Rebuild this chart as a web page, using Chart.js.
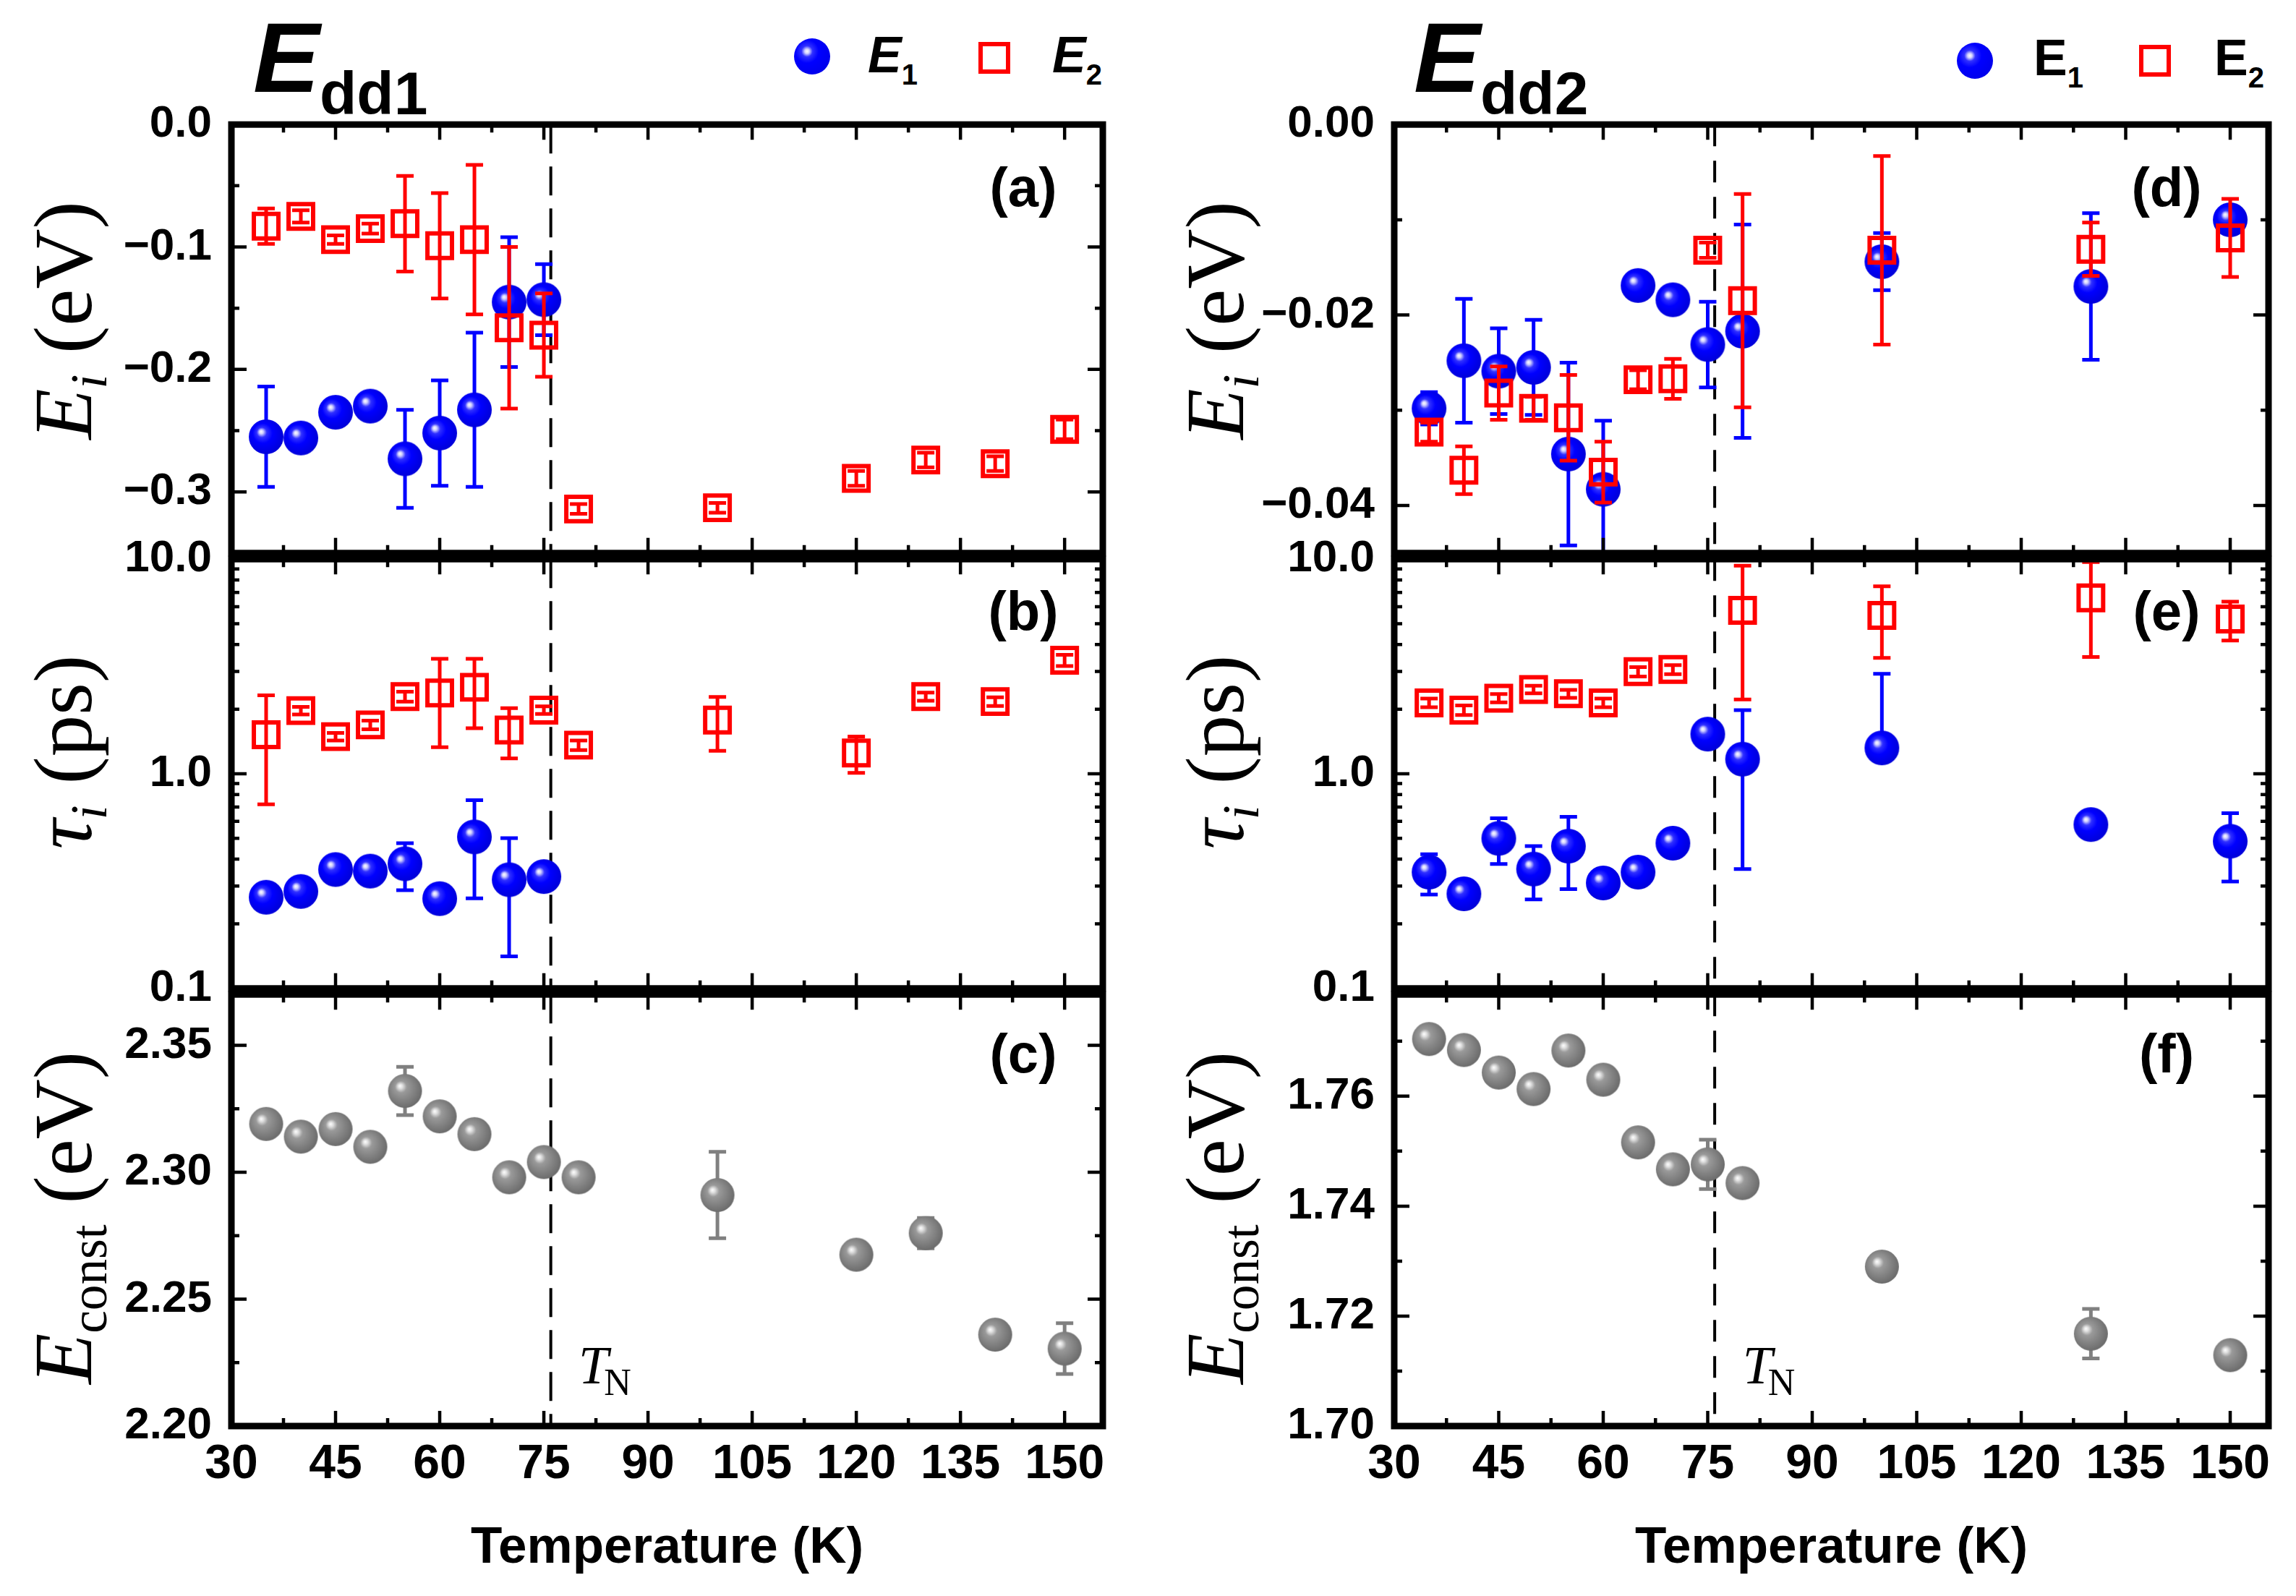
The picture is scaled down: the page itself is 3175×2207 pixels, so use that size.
<!DOCTYPE html>
<html>
<head>
<meta charset="utf-8">
<script src="https://cdn.jsdelivr.net/npm/chart.js@4.4.1/dist/chart.umd.min.js"></script>
<style>
    html, body { margin: 0; padding: 0; background: #fff; }
    body { width: 3175px; height: 2207px; position: relative; overflow: hidden; }
    canvas.panel { position: absolute; }
    .ytitle {
        position: absolute; transform: translate(-50%, -50%) rotate(-90deg);
        white-space: nowrap; font-family: 'Liberation Serif', serif; font-size: 115px;
        line-height: 1; color: #000;
    }
    .ytitle sub { font-size: 0.62em; vertical-align: -0.3em; line-height: 0; }
    .big {
        position: absolute; white-space: nowrap; font-family: 'Liberation Sans', Arial, sans-serif;
        font-weight: bold; font-size: 138px; line-height: 1; color: #000;
    }
    .big sub { font-size: 84px; vertical-align: -31px; line-height: 0; }
    .leg {
        position: absolute; white-space: nowrap; font-family: 'Liberation Sans', Arial, sans-serif;
        font-weight: bold; font-size: 70px; line-height: 1; color: #000;
    }
    .leg sub { font-size: 40px; vertical-align: -17px; line-height: 0; }
    .ball {
        position: absolute; width: 50px; height: 50px; border-radius: 50%;
        background: radial-gradient(circle at 36% 36%, #ffffff 0, #d0d0ff 7%, #3030ff 17%, #0000ff 36%, #0000e0 100%);
    }
    .sq { position: absolute; width: 32px; height: 32px; border: 6px solid #ff0000; }
</style>
</head>
<body>

<!-- títulos e legendas -->
<div class="big" style="left:350px;top:10px"><i>E</i><sub>dd1</sub></div>
<div class="ball" style="left:1098px;top:53px"></div>
<div class="leg" style="left:1200px;top:41px"><i>E</i><sub>1</sub></div>
<div class="sq" style="left:1353px;top:58px"></div>
<div class="leg" style="left:1455px;top:41px"><i>E</i><sub>2</sub></div>

<div class="big" style="left:1955px;top:10px"><i>E</i><sub>dd2</sub></div>
<div class="ball" style="left:2706px;top:59px"></div>
<div class="leg" style="left:2812px;top:45px">E<sub>1</sub></div>
<div class="sq" style="left:2958px;top:62px"></div>
<div class="leg" style="left:3062px;top:45px">E<sub>2</sub></div>

<!-- títulos dos eixos y -->
<div class="ytitle" style="left:87px;top:443px"><i>E</i><sub><i>i</i></sub> (eV)</div>
<div class="ytitle" style="left:87px;top:1040px"><i>τ</i><sub><i>i</i></sub> (ps)</div>
<div class="ytitle" style="left:87px;top:1684px"><i>E</i><sub>const</sub> (eV)</div>
<div class="ytitle" style="left:1680px;top:443px"><i>E</i><sub><i>i</i></sub> (eV)</div>
<div class="ytitle" style="left:1680px;top:1040px"><i>τ</i><sub><i>i</i></sub> (ps)</div>
<div class="ytitle" style="left:1680px;top:1684px"><i>E</i><sub>const</sub> (eV)</div>

<script>
// Temperaturas (K)
const tempsL = [35, 40, 45, 50, 55, 60, 65, 70, 75, 80, 100, 120, 130, 140, 150];
const tempsR = [35, 40, 45, 50, 55, 60, 65, 70, 75, 80, 100, 130, 150];
const tN = 76;
const tnLabelX = 80;

// Painel (a) - Edd1, E_i (eV)
const aE1 = [-0.255, -0.256, -0.235, -0.230, -0.273, -0.252, -0.233, -0.145, -0.143, null, null, null, null, null, null];
const aE1Err = [0.041, 0.003, 0.003, 0.003, 0.040, 0.043, 0.063, 0.053, 0.029, null, null, null, null, null, null];
const aE2 = [-0.083, -0.075, -0.094, -0.085, -0.081, -0.099, -0.094, -0.166, -0.172, -0.314, -0.313, -0.289, -0.274, -0.277, -0.249];
const aE2Err = [0.0145, 0.005, 0.0035, 0.004, 0.039, 0.043, 0.061, 0.066, 0.034, 0.004, 0.004, 0.006, 0.006, 0.006, 0.008];

// Painel (b) - Edd1, tau_i (ps)
const bE1 = [0.266, 0.283, 0.358, 0.352, 0.381, 0.262, 0.508, 0.321, 0.332, null, null, null, null, null, null];
const bE1Err = [0.01, 0.01, 0.01, 0.01, 0.094, 0.01, 0.245, 0.18, 0.01, null, null, null, null, null, null];
const bE2 = [1.52, 1.97, 1.49, 1.69, 2.29, 2.38, 2.53, 1.60, 1.98, 1.36, 1.78, 1.25, 2.29, 2.17, 3.38];
const bE2Err = [0.80, 0.08, 0.06, 0.08, 0.12, 1.05, 0.90, 0.42, 0.08, 0.07, 0.50, 0.24, 0.10, 0.10, 0.20];

// Painel (c) - Edd1, E_const (eV)
const cE = [2.319, 2.314, 2.317, 2.310, 2.332, 2.322, 2.315, 2.298, 2.304, 2.298, 2.291, 2.2675, 2.276, 2.236, 2.2305];
const cErr = [0.001, 0.001, 0.001, 0.001, 0.0095, 0.001, 0.001, 0.001, 0.001, 0.001, 0.017, 0.001, 0.006, 0.001, 0.010];

// Painel (d) - Edd2, E_i (eV)
const dE1 = [-0.0298, -0.0248, -0.0259, -0.0255, -0.0346, -0.0383, -0.0169, -0.0184, -0.0231, -0.0217, -0.0144, -0.0170, -0.0100];
const dE1Err = [0.0017, 0.0065, 0.0045, 0.0050, 0.0096, 0.0072, 0.0008, 0.0004, 0.0045, 0.0112, 0.0030, 0.0077, 0.0008];
const dE2 = [-0.0323, -0.0363, -0.0282, -0.0298, -0.0308, -0.0365, -0.0268, -0.0267, -0.0132, -0.0185, -0.0132, -0.0131, -0.0119];
const dE2Err = [0.0010, 0.0025, 0.0028, 0.0012, 0.0045, 0.0032, 0.0010, 0.0021, 0.0008, 0.0112, 0.0099, 0.0028, 0.0041];

// Painel (e) - Edd2, tau_i (ps)
const eE1 = [0.348, 0.276, 0.50, 0.36, 0.46, 0.31, 0.348, 0.475, 1.53, 1.17, 1.32, 0.58, 0.485];
const eE1Err = [0.074, 0.01, 0.12, 0.10, 0.17, 0.01, 0.01, 0.01, 0.01, 0.81, 1.60, 0.01, 0.17];
const eE2 = [2.14, 1.98, 2.25, 2.47, 2.36, 2.14, 2.99, 3.06, null, 5.77, 5.47, 6.6, 5.26];
const eE2Err = [0.10, 0.10, 0.10, 0.10, 0.10, 0.10, 0.15, 0.15, null, 3.55, 2.0, 3.1, 1.08];

// Painel (f) - Edd2, E_const (eV)
const fE = [1.7704, 1.7684, 1.7643, 1.7613, 1.7683, 1.7630, 1.7516, 1.7467, 1.7476, 1.7442, 1.7290, 1.7168, 1.7129];
const fErr = [0, 0, 0, 0, 0, 0, 0, 0, 0.0045, 0, 0, 0.0045, 0];

// Marcas dos eixos
const xMajor = [30, 45, 60, 75, 90, 105, 120, 135, 150];
const xMinor = [37.5, 52.5, 67.5, 82.5, 97.5, 112.5, 127.5, 142.5];
const aMajor = [0, -0.1, -0.2, -0.3];
const aMinor = [-0.05, -0.15, -0.25];
const logMajor = [0.1, 1, 10];
const logMinor = [0.2, 0.3, 0.4, 0.5, 0.6, 0.7, 0.8, 0.9, 2, 3, 4, 5, 6, 7, 8, 9];
const cMajor = [2.20, 2.25, 2.30, 2.35];
const cMinor = [2.225, 2.275, 2.325];
const dMajor = [0, -0.02, -0.04];
const dMinor = [-0.01, -0.03];
const fMajor = [1.70, 1.72, 1.74, 1.76];
const fMinor = [1.71, 1.73, 1.75, 1.77];

document.addEventListener('DOMContentLoaded', () => {

    const SANS = "'Liberation Sans', Arial, sans-serif";
    const PAD = 60;
    const PAGE_H = 2207;
    const CAP = 12;

    // Geometria das colunas e linhas
    const cols = {
        L: { canvasLeft: 0, canvasWidth: 1620, plotLeft: 320, plotRight: 1525, labelOff: 110, dash: [40, 18] },
        R: { canvasLeft: 1560, canvasWidth: 1680, plotLeft: 1928, plotRight: 3137, labelOff: 141, dash: [30, 20] }
    };
    const rowTop = [168, 769, 1371];
    const rowBottom = [769, 1371, 1972];
    const labelY = [92, 77, 87];

    // Esferas sombreadas usadas como marcadores
    const makeBall = (d, stops) => {
        const c = document.createElement('canvas');
        c.width = c.height = d + 2;
        const g = c.getContext('2d');
        const r = d / 2, cx = c.width / 2, cy = c.height / 2;
        const grad = g.createRadialGradient(cx - r * 0.3, cy - r * 0.3, 0, cx - r * 0.1, cy - r * 0.1, r * 1.15);
        stops.forEach(([o, col]) => grad.addColorStop(o, col));
        g.fillStyle = grad;
        g.beginPath();
        g.arc(cx, cy, r, 0, Math.PI * 2);
        g.fill();
        return c;
    };
    const blueBall = makeBall(48, [[0, '#ffffff'], [0.1, '#d0d0ff'], [0.25, '#3030ff'], [0.5, '#0000ff'], [1, '#0000d8']]);
    const grayBall = makeBall(47, [[0, '#ffffff'], [0.12, '#e0e0e0'], [0.3, '#9a9a9a'], [0.6, '#858585'], [1, '#6a6a6a']]);

    const toPoints = (temps, vals, errs) =>
        temps.map((t, i) => ({ x: t, y: vals[i], err: errs[i] })).filter(p => p.y !== null);

    const blueSet = (temps, vals, errs) => ({
        data: toPoints(temps, vals, errs), pointStyle: blueBall, pointRadius: 24,
        errColor: '#0000ff', order: 1
    });
    const redSet = (temps, vals, errs) => ({
        data: toPoints(temps, vals, errs), pointStyle: 'rect', pointRadius: 24, borderWidth: 6,
        borderColor: '#ff0000', backgroundColor: 'rgba(0,0,0,0)', errColor: '#ff0000', order: 0
    });
    const graySet = (temps, vals, errs) => ({
        data: toPoints(temps, vals, errs), pointStyle: grayBall, pointRadius: 24,
        errColor: '#808080', order: 0
    });

    const sorted = (a, b) => [...a, ...b].sort((p, q) => p - q);
    const fmtFixed = n => v => (v < 0 ? '\u2212' : '') + Math.abs(v).toFixed(n);

    // Plugin: linha T_N, barras de erro, moldura, marcas e rótulos
    const makeDecor = (p, col) => ({
        id: 'panelDecor',
        beforeDatasetsDraw(chart) {
            const { ctx, chartArea: ca, scales: { x } } = chart;
            const px = x.getPixelForValue(tN);
            ctx.save();
            ctx.strokeStyle = '#000';
            ctx.lineWidth = 4;
            ctx.setLineDash(col.dash);
            ctx.beginPath();
            ctx.moveTo(px, ca.top);
            ctx.lineTo(px, ca.bottom);
            ctx.stroke();
            ctx.restore();
        },
        beforeDatasetDraw(chart, args) {
            const ds = chart.data.datasets[args.index];
            const { ctx, chartArea: ca, scales: { y } } = chart;
            const isLog = y.type === 'logarithmic';
            ctx.save();
            ctx.beginPath();
            ctx.rect(ca.left, ca.top, ca.width, ca.height);
            ctx.clip();
            ctx.strokeStyle = ds.errColor;
            ctx.lineWidth = 5;
            args.meta.data.forEach((pt, i) => {
                const { y: v, err } = ds.data[i];
                if (!err) return;
                const yHi = y.getPixelForValue(v + err);
                const yLo = (isLog && v - err <= 0) ? null : y.getPixelForValue(v - err);
                ctx.beginPath();
                ctx.moveTo(pt.x, yHi);
                ctx.lineTo(pt.x, yLo === null ? pt.y : yLo);
                ctx.moveTo(pt.x - CAP, yHi);
                ctx.lineTo(pt.x + CAP, yHi);
                if (yLo !== null) {
                    ctx.moveTo(pt.x - CAP, yLo);
                    ctx.lineTo(pt.x + CAP, yLo);
                }
                ctx.stroke();
            });
            ctx.restore();
        },
        afterDraw(chart) {
            const { ctx, chartArea: ca, scales: { x, y } } = chart;
            ctx.save();
            ctx.strokeStyle = '#000';
            ctx.lineWidth = 4.5;
            ctx.beginPath();
            x.ticks.forEach(t => {
                const px = x.getPixelForValue(t.value);
                const len = xMajor.includes(t.value) ? 21 : 11;
                ctx.moveTo(px, ca.top);
                ctx.lineTo(px, ca.top + len);
                ctx.moveTo(px, ca.bottom);
                ctx.lineTo(px, ca.bottom - len);
            });
            y.ticks.forEach(t => {
                const py = y.getPixelForValue(t.value);
                const len = p.yMajor.includes(t.value) ? 21 : 11;
                ctx.moveTo(ca.left, py);
                ctx.lineTo(ca.left + len, py);
                ctx.moveTo(ca.right, py);
                ctx.lineTo(ca.right - len, py);
            });
            ctx.stroke();
            ctx.lineWidth = 9;
            ctx.strokeRect(ca.left, ca.top, ca.width, ca.height);

            ctx.fillStyle = '#000';
            ctx.font = "bold 76px 'Liberation Sans'";
            ctx.textAlign = 'center';
            ctx.textBaseline = 'middle';
            ctx.fillText(p.label, ca.right - col.labelOff, ca.top + labelY[p.row]);

            if (p.row === 2) {
                const px = x.getPixelForValue(tnLabelX);
                ctx.textAlign = 'left';
                ctx.textBaseline = 'alphabetic';
                ctx.font = "italic 74px 'Liberation Serif'";
                ctx.fillText('T', px, ca.bottom - 59);
                const w = ctx.measureText('T').width;
                ctx.font = "52px 'Liberation Serif'";
                ctx.fillText('N', px + w - 6, ca.bottom - 43);
            }
            ctx.restore();
        }
    });

    const buildPanel = (p) => {
        const col = cols[p.col];
        const top = rowTop[p.row], bottom = rowBottom[p.row];
        const isBottom = p.row === 2;
        const cTop = top - PAD;
        const cH = isBottom ? PAGE_H - cTop : bottom - top + 2 * PAD;

        const canvas = document.createElement('canvas');
        canvas.className = 'panel';
        canvas.width = col.canvasWidth;
        canvas.height = cH;
        canvas.style.left = col.canvasLeft + 'px';
        canvas.style.top = cTop + 'px';
        canvas.style.width = col.canvasWidth + 'px';
        canvas.style.height = cH + 'px';
        document.body.appendChild(canvas);

        return new Chart(canvas, {
            type: 'scatter',
            data: { datasets: p.datasets },
            options: {
                responsive: false,
                animation: false,
                devicePixelRatio: 1,
                events: [],
                layout: {
                    padding: {
                        top: PAD, bottom: isBottom ? 0 : PAD, left: 0,
                        right: col.canvasWidth - (col.plotRight - col.canvasLeft)
                    }
                },
                plugins: { legend: { display: false }, tooltip: { enabled: false } },
                scales: {
                    x: {
                        type: 'linear', min: 30, max: 155.5, display: isBottom,
                        afterBuildTicks: s => { s.ticks = sorted(xMajor, xMinor).map(v => ({ value: v })); },
                        afterFit: s => { s.height = isBottom ? PAGE_H - rowBottom[2] : 0; },
                        grid: { display: false, drawTicks: false },
                        border: { display: false },
                        ticks: {
                            autoSkip: false, maxRotation: 0, minRotation: 0, padding: 14, color: '#000',
                            font: { family: SANS, weight: 'bold', size: 66 },
                            callback: v => xMajor.includes(v) ? String(v) : ''
                        },
                        title: {
                            display: isBottom, text: 'Temperature (K)', color: '#000',
                            font: { family: SANS, weight: 'bold', size: 71 },
                            padding: { top: 0, bottom: 23 }
                        }
                    },
                    y: {
                        type: p.yType, min: p.yMin, max: p.yMax,
                        afterBuildTicks: s => { s.ticks = sorted(p.yMajor, p.yMinor).map(v => ({ value: v })); },
                        afterFit: s => { s.width = col.plotLeft - col.canvasLeft; },
                        grid: { display: false, drawTicks: false },
                        border: { display: false },
                        ticks: {
                            autoSkip: false, padding: 27, color: '#000',
                            font: { family: SANS, weight: 'bold', size: 62 },
                            callback: v => p.yMajor.includes(v) ? p.fmt(v) : ''
                        }
                    }
                }
            },
            plugins: [makeDecor(p, col)]
        });
    };

    // Os seis painéis
    const panels = [
        { col: 'L', row: 0, label: '(a)', yType: 'linear', yMin: -0.35, yMax: 0, yMajor: aMajor, yMinor: aMinor, fmt: fmtFixed(1),
          datasets: [blueSet(tempsL, aE1, aE1Err), redSet(tempsL, aE2, aE2Err)] },
        { col: 'L', row: 1, label: '(b)', yType: 'logarithmic', yMin: 0.1, yMax: 10, yMajor: logMajor, yMinor: logMinor, fmt: fmtFixed(1),
          datasets: [blueSet(tempsL, bE1, bE1Err), redSet(tempsL, bE2, bE2Err)] },
        { col: 'L', row: 2, label: '(c)', yType: 'linear', yMin: 2.20, yMax: 2.37, yMajor: cMajor, yMinor: cMinor, fmt: fmtFixed(2),
          datasets: [graySet(tempsL, cE, cErr)] },
        { col: 'R', row: 0, label: '(d)', yType: 'linear', yMin: -0.045, yMax: 0, yMajor: dMajor, yMinor: dMinor, fmt: fmtFixed(2),
          datasets: [blueSet(tempsR, dE1, dE1Err), redSet(tempsR, dE2, dE2Err)] },
        { col: 'R', row: 1, label: '(e)', yType: 'logarithmic', yMin: 0.1, yMax: 10, yMajor: logMajor, yMinor: logMinor, fmt: fmtFixed(1),
          datasets: [blueSet(tempsR, eE1, eE1Err), redSet(tempsR, eE2, eE2Err)] },
        { col: 'R', row: 2, label: '(f)', yType: 'linear', yMin: 1.70, yMax: 1.7785, yMajor: fMajor, yMinor: fMinor, fmt: fmtFixed(2),
          datasets: [graySet(tempsR, fE, fErr)] }
    ];

    panels.forEach(buildPanel);
});
</script>
</body>
</html>
